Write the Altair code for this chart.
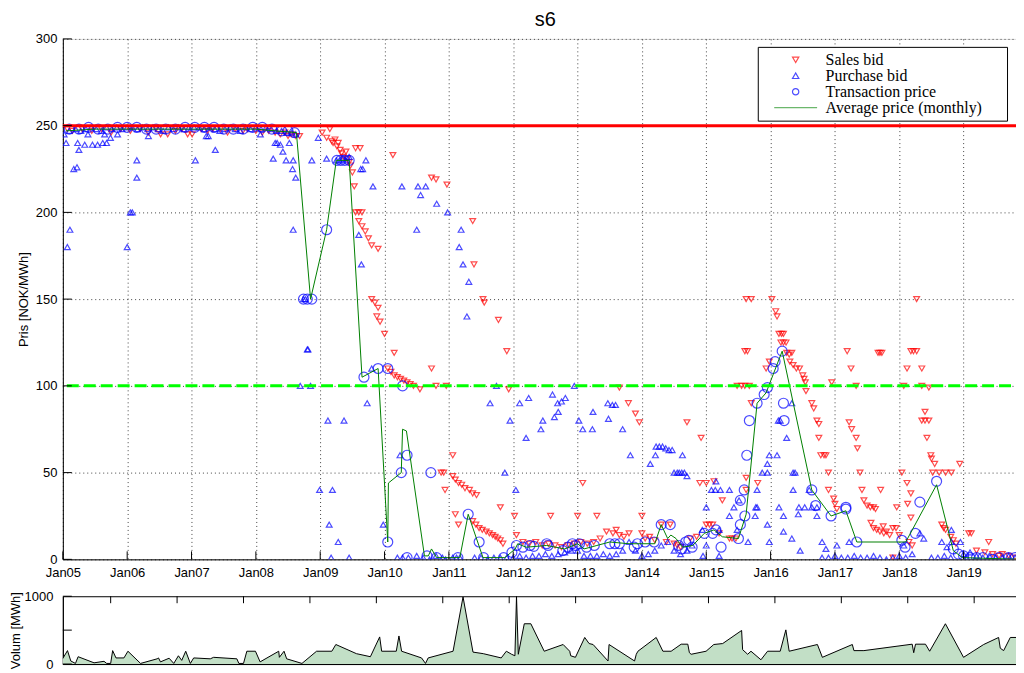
import altair as alt
import pandas as pd

# ---------------- data (years as decimal numbers) ----------------
SERIES = ["Sales bid", "Purchase bid", "Transaction price", "Average price (monthly)"]
YEAR_TICKS = list(range(2005, 2020))
PRICE_TICKS = [0, 50, 100, 150, 200, 250, 300]
VOLUME_TICKS = [0, 500, 1000]
CAP_LEVEL = [250]
FLOOR_LEVEL = [100]

sales_bid = [
    (2005.07, 248), (2005.15, 247), (2005.3, 248), (2005.45, 247), (2005.6, 248), (2005.75, 246), (2005.9, 248),
    (2006.05, 247), (2006.2, 248), (2006.33, 246), (2006.45, 248), (2006.52, 245), (2006.63, 245), (2006.75, 247),
    (2006.85, 248), (2006.94, 245), (2007.01, 245), (2007.15, 248), (2007.25, 247), (2007.33, 248), (2007.45, 248),
    (2007.56, 246), (2007.68, 248), (2007.8, 247), (2007.87, 248), (2008.0, 247), (2008.1, 246), (2008.2, 247),
    (2008.3, 246), (2008.38, 245), (2008.45, 246), (2008.5, 244), (2008.55, 245), (2008.62, 244), (2008.68, 244),
    (2009.03, 246), (2009.15, 248), (2009.1, 243), (2009.18, 241), (2009.2, 240), (2009.23, 242), (2009.26, 238),
    (2009.28, 240), (2009.31, 236), (2009.33, 234), (2009.36, 232), (2009.4, 235), (2009.42, 231), (2009.45, 229),
    (2009.47, 227), (2009.5, 223), (2009.55, 237), (2009.62, 237), (2009.53, 215), (2009.55, 200), (2009.6, 200),
    (2009.65, 200), (2009.6, 195), (2009.65, 192), (2009.7, 189), (2009.75, 185), (2009.8, 181), (2009.9, 179),
    (2009.8, 150), (2009.85, 148), (2009.9, 145), (2009.93, 137), (2009.88, 140), (2010.0, 130), (2010.13, 233),
    (2010.15, 119), (2010.05, 110), (2010.1, 108), (2010.15, 106), (2010.2, 105), (2010.25, 104), (2010.3, 103),
    (2010.35, 102), (2010.4, 101), (2010.45, 100), (2010.55, 98), (2010.73, 110), (2010.8, 100), (2010.96, 100),
    (2010.73, 220), (2010.8, 219), (2010.97, 216), (2011.37, 195), (2011.39, 170), (2011.53, 150), (2011.55, 148),
    (2011.77, 138), (2011.9, 120), (2011.93, 98), (2011.06, 60), (2010.88, 50), (2010.92, 50), (2010.94, 40),
    (2011.06, 48), (2011.1, 46), (2011.15, 44), (2011.2, 43), (2011.25, 41), (2011.32, 40), (2011.37, 38),
    (2011.43, 37), (2011.1, 26), (2011.15, 20), (2011.37, 22), (2011.42, 20), (2011.47, 18), (2011.52, 17),
    (2011.58, 16), (2011.63, 15), (2011.68, 14), (2011.72, 13), (2011.76, 12), (2011.8, 11), (2011.84, 9),
    (2011.8, 30), (2012.02, 25), (2012.05, 14), (2012.15, 10), (2012.25, 9), (2012.35, 10), (2012.45, 8),
    (2012.58, 25), (2012.55, 9), (2012.65, 8), (2012.75, 7), (2012.85, 8), (2012.95, 9), (2013.0, 25),
    (2013.08, 44), (2013.05, 10), (2013.15, 9), (2013.3, 25), (2013.25, 10), (2013.35, 12), (2013.45, 16),
    (2013.55, 15), (2013.6, 17), (2013.65, 14), (2013.72, 13), (2013.8, 15), (2013.65, 99), (2013.79, 90),
    (2013.9, 84), (2013.96, 79), (2014.0, 25), (2014.0, 15), (2014.05, 12), (2014.12, 13), (2014.2, 11),
    (2014.3, 20), (2014.44, 20), (2014.38, 10), (2014.5, 9), (2014.55, 8), (2014.6, 7),
    (2014.7, 79), (2014.92, 70), (2014.9, 44), (2015.0, 44), (2015.12, 45), (2015.25, 34), (2015.0, 20),
    (2015.05, 20), (2015.1, 20), (2015.36, 12), (2015.4, 12), (2015.46, 12), (2014.75, 12), (2014.85, 13),
    (2015.2, 15), (2015.6, 120), (2015.64, 120), (2015.62, 150), (2015.7, 150), (2015.48, 100), (2015.55, 100),
    (2015.6, 100), (2015.67, 100), (2015.7, 90), (2015.62, 47), (2015.62, 40), (2015.8, 44), (2015.93, 110),
    (2015.98, 114), (2016.02, 150), (2016.08, 143), (2016.1, 140), (2016.13, 130), (2016.17, 130), (2016.2, 130),
    (2016.16, 125), (2016.2, 125), (2016.24, 125), (2016.25, 119), (2016.29, 118), (2016.33, 119), (2016.3, 114),
    (2016.35, 112), (2016.4, 110), (2016.45, 110), (2016.5, 106), (2016.52, 104), (2016.54, 102), (2016.55, 97),
    (2016.64, 90), (2016.67, 87), (2016.72, 80), (2016.75, 78), (2016.75, 70), (2016.78, 60), (2016.83, 60),
    (2016.86, 60), (2016.9, 50), (2016.9, 40), (2016.95, 102), (2016.98, 35), (2017.0, 32), (2017.03, 29),
    (2017.19, 120), (2017.25, 110), (2017.22, 79), (2017.26, 75), (2017.33, 70), (2017.35, 64), (2017.33, 100),
    (2017.39, 50), (2017.42, 40), (2017.45, 34), (2017.5, 31), (2017.55, 30), (2017.6, 30), (2017.63, 29),
    (2017.56, 21), (2017.6, 18), (2017.65, 17), (2017.7, 16), (2017.76, 15), (2017.67, 119), (2017.7, 119),
    (2017.73, 119), (2017.71, 40), (2017.75, 19), (2017.8, 16), (2017.85, 14), (2017.9, 18), (2017.95, 18),
    (2018.0, 14), (2017.96, 30), (2018.04, 50), (2018.07, 100), (2018.12, 110), (2018.18, 120), (2018.22, 120),
    (2018.27, 120), (2018.27, 150), (2018.35, 110), (2018.35, 100), (2018.46, 99), (2018.4, 85), (2018.35, 80),
    (2018.4, 80), (2018.46, 80), (2018.43, 70), (2018.49, 60), (2018.5, 58), (2018.55, 55), (2018.52, 50),
    (2018.62, 50), (2018.72, 50), (2018.81, 50), (2018.94, 55), (2018.12, 44), (2018.18, 38), (2018.13, 32),
    (2018.18, 24), (2018.15, 10), (2018.2, 8), (2018.66, 20), (2018.69, 18), (2018.72, 17), (2018.8, 13),
    (2018.84, 11), (2018.88, 9), (2019.08, 15), (2019.12, 15), (2019.39, 10), (2019.33, 4), (2019.2, 5),
    (2019.45, 3), (2019.55, 2), (2019.6, 3), (2019.7, 2), (2019.8, 1), (2019.9, 2), (2019.98, 1), (2017.9, 1),
]

purchase_bid = [
    (2005.02, 245), (2005.1, 247), (2005.2, 248), (2005.28, 247), (2005.36, 248), (2005.44, 249), (2005.52, 248),
    (2005.6, 247), (2005.68, 249), (2005.76, 248), (2005.84, 249), (2005.92, 248), (2006.0, 249), (2006.08, 249),
    (2006.16, 248), (2006.24, 249), (2006.32, 248), (2006.4, 249), (2006.48, 248), (2006.56, 247), (2006.64, 249),
    (2006.72, 248), (2006.8, 249), (2006.88, 248), (2006.96, 249), (2007.04, 249), (2007.12, 249), (2007.2, 248),
    (2007.28, 249), (2007.36, 248), (2007.44, 247), (2007.52, 248), (2007.6, 249), (2007.68, 248), (2007.76, 247),
    (2007.84, 249), (2007.92, 248), (2008.0, 249), (2008.08, 248), (2008.16, 249), (2008.24, 248), (2008.32, 247),
    (2008.4, 247), (2008.48, 246), (2008.56, 246), (2008.62, 245),
    (2005.05, 240), (2005.07, 180), (2005.11, 190), (2005.17, 225), (2005.22, 226), (2005.25, 236), (2005.23, 240),
    (2005.34, 239), (2005.39, 245), (2005.46, 239), (2005.54, 239), (2005.62, 240), (2005.65, 245), (2005.68, 240),
    (2005.74, 243), (2005.85, 245), (2006.0, 180), (2006.05, 200), (2006.08, 200), (2006.15, 230), (2006.15, 220),
    (2006.33, 244), (2007.06, 230), (2007.23, 244), (2007.26, 244), (2007.37, 236), (2008.07, 245), (2008.27, 231),
    (2008.3, 240), (2008.33, 240), (2008.38, 239), (2008.42, 235), (2008.47, 230), (2008.52, 240), (2008.57, 225),
    (2008.58, 230), (2008.62, 220), (2008.58, 190), (2008.87, 230), (2008.97, 243), (2009.1, 231), (2008.74, 150),
    (2008.77, 150), (2008.8, 121), (2008.81, 121), (2008.69, 100), (2008.85, 100), (2009.12, 80), (2009.37, 80),
    (2008.99, 40), (2009.19, 40), (2009.14, 20), (2009.28, 10), (2009.17, 1), (2009.45, 1),
    (2009.25, 230), (2009.3, 230), (2009.35, 231), (2009.4, 230), (2009.45, 232),
    (2009.71, 230), (2009.63, 225), (2009.66, 225), (2009.82, 215), (2010.27, 215), (2010.52, 215), (2010.64, 215),
    (2010.56, 210), (2010.81, 205), (2010.98, 200), (2010.5, 190), (2011.19, 190), (2011.16, 180), (2011.22, 170),
    (2011.31, 160), (2009.6, 187), (2009.64, 170), (2011.28, 140), (2009.73, 90), (2009.8, 110), (2009.98, 20),
    (2010.24, 60), (2010.2, 1), (2010.28, 1), (2010.37, 1), (2010.5, 2), (2010.6, 1), (2010.7, 0), (2010.8, 2),
    (2010.9, 1), (2010.95, 0), (2011.06, 1), (2011.12, 1), (2011.17, 1), (2011.4, 1), (2011.5, 1), (2011.6, 0),
    (2011.7, 1), (2011.8, 1), (2011.9, 1), (2011.64, 90), (2011.74, 100), (2011.87, 50), (2011.95, 80),
    (2012.04, 40), (2012.1, 90), (2012.24, 93), (2012.2, 70), (2012.43, 75), (2012.46, 80), (2012.61, 95),
    (2012.69, 90), (2012.75, 91), (2012.81, 93), (2012.7, 85), (2012.64, 82), (2012.95, 100), (2013.02, 80),
    (2013.08, 75), (2013.23, 75), (2013.24, 85), (2013.47, 90), (2013.54, 89), (2013.59, 89), (2013.48, 81),
    (2013.7, 75), (2013.82, 60), (2014.13, 55), (2014.21, 60), (2014.22, 65), (2014.27, 65), (2014.32, 65),
    (2014.37, 64), (2014.42, 63), (2014.47, 63), (2014.5, 50), (2014.55, 50), (2014.58, 50), (2014.63, 60),
    (2014.62, 50), (2014.66, 50), (2014.7, 48),
    (2012.0, 1), (2012.1, 2), (2012.2, 1), (2012.3, 2), (2012.4, 2), (2012.5, 3), (2012.6, 2), (2012.7, 3),
    (2012.8, 4), (2012.9, 5), (2013.0, 5), (2013.1, 2), (2013.2, 2), (2013.3, 2), (2013.4, 3), (2013.5, 2),
    (2013.6, 3), (2013.7, 5), (2013.8, 10), (2013.9, 5), (2014.0, 2), (2014.1, 3), (2014.2, 5), (2014.3, 8),
    (2014.4, 10), (2014.5, 5), (2014.6, 3), (2014.7, 5), (2014.78, 8),
    (2015.08, 40), (2015.14, 40), (2015.22, 40), (2015.36, 40), (2015.15, 45), (2015.0, 30), (2014.94, 17),
    (2015.2, 17), (2014.95, 2), (2015.0, 8), (2015.2, 2), (2015.36, 25), (2015.43, 30), (2015.51, 34),
    (2015.48, 17), (2015.65, 10), (2015.79, 40), (2015.77, 30), (2015.79, 30), (2015.76, 25), (2015.95, 20),
    (2015.95, 55), (2015.98, 60), (2015.87, 50), (2015.95, 50), (2015.98, 10), (2016.1, 60), (2016.12, 80),
    (2016.15, 80), (2016.25, 70), (2016.33, 90), (2016.2, 25), (2016.2, 16), (2016.35, 40), (2016.35, 50),
    (2016.38, 50), (2016.13, 30), (2016.33, 12), (2016.46, 5), (2016.44, 30), (2016.53, 30), (2016.64, 30),
    (2016.43, 26), (2016.6, 40), (2016.72, 30), (2016.72, 25), (2016.8, 10), (2016.86, 6),
    (2016.8, 1), (2016.9, 1), (2017.0, 2), (2017.03, 8), (2017.1, 1), (2017.22, 10), (2017.2, 1), (2017.3, 2),
    (2017.4, 1), (2017.5, 1), (2017.6, 2), (2017.7, 1), (2017.8, 0), (2017.9, 1), (2018.0, 2), (2018.07, 8),
    (2018.1, 1), (2018.2, 3), (2018.32, 15), (2018.38, 12), (2018.5, 1), (2018.6, 1), (2018.7, 2), (2018.8, 1),
    (2018.66, 10), (2018.74, 7), (2018.81, 10), (2018.81, 17), (2018.95, 10),
    (2019.0, 3), (2019.05, 1), (2019.1, 4), (2019.2, 2), (2019.3, 1), (2019.4, 2), (2019.5, 1), (2019.6, 1),
    (2019.7, 2), (2019.8, 1), (2019.9, 1), (2019.98, 2),
]

transaction_price = [
    (2005.1, 248), (2005.25, 248), (2005.4, 249), (2005.55, 248), (2005.7, 248), (2005.85, 249), (2006.0, 249),
    (2006.15, 249), (2006.3, 248), (2006.45, 248), (2006.6, 248), (2006.75, 248), (2006.9, 249), (2007.05, 249),
    (2007.2, 249), (2007.35, 249), (2007.5, 248), (2007.65, 248), (2007.8, 248), (2007.95, 249), (2008.1, 249),
    (2008.25, 248), (2008.4, 247), (2008.5, 247), (2008.6, 246),
    (2008.74, 150), (2008.8, 150), (2008.87, 150), (2009.1, 190), (2009.26, 230), (2009.32, 230), (2009.38, 230),
    (2009.45, 230), (2009.68, 105), (2009.9, 110), (2010.05, 110), (2010.28, 100), (2010.05, 10), (2010.26, 50),
    (2010.35, 60), (2010.35, 1), (2010.66, 2), (2010.72, 50), (2010.81, 1), (2011.14, 1), (2011.3, 26),
    (2011.47, 10), (2011.54, 1), (2011.85, 1), (2011.98, 4), (2012.05, 8), (2012.15, 7), (2012.26, 8),
    (2012.32, 7.5), (2012.52, 9), (2012.54, 8), (2012.77, 5), (2012.85, 7), (2012.92, 9), (2012.97, 8),
    (2013.03, 9), (2013.14, 7), (2013.26, 8), (2013.5, 9), (2013.58, 9), (2013.65, 9), (2013.88, 7),
    (2013.93, 9), (2014.3, 20), (2014.44, 20), (2014.19, 10), (2014.05, 10), (2014.57, 8), (2014.62, 6),
    (2014.68, 10), (2014.73, 11), (2014.78, 7), (2014.97, 15), (2015.1, 15), (2015.15, 17), (2015.23, 7),
    (2015.5, 12), (2015.53, 20), (2015.53, 34), (2015.59, 40), (2015.6, 25), (2015.63, 60), (2015.67, 80),
    (2015.79, 90), (2015.9, 95), (2015.95, 99), (2016.04, 110), (2016.07, 114), (2016.18, 120), (2016.2, 90),
    (2016.21, 80), (2016.64, 40), (2016.7, 31), (2016.94, 25), (2017.17, 30), (2017.17, 29), (2017.34, 10),
    (2018.04, 11), (2018.09, 7), (2018.25, 15), (2018.32, 33), (2018.58, 45), (2018.84, 6), (2018.92, 3),
    (2019.0, 2), (2019.1, 1), (2019.2, 1), (2019.3, 1), (2019.45, 0), (2019.55, 1), (2019.7, 1), (2019.8, 1),
    (2019.9, 0),
]

average_monthly = [
    (2005.05, 247), (2005.5, 248), (2006.0, 248), (2006.5, 248), (2007.0, 248), (2007.5, 248), (2008.0, 248),
    (2008.3, 247), (2008.63, 246), (2008.85, 150), (2009.1, 190), (2009.25, 230), (2009.45, 230), (2009.65, 105),
    (2009.9, 110), (2010.05, 10), (2010.06, 44), (2010.26, 50), (2010.28, 75), (2010.34, 74), (2010.62, 2),
    (2010.68, 2), (2010.73, 6), (2010.81, 1), (2011.17, 1), (2011.3, 26), (2011.53, 1), (2011.87, 1),
    (2012.03, 6), (2012.07, 9), (2012.2, 7), (2012.52, 8), (2012.8, 6), (2013.0, 9), (2013.1, 6), (2013.3, 8),
    (2013.5, 10), (2013.8, 9), (2014.0, 9), (2014.2, 9), (2014.3, 20), (2014.4, 12), (2014.45, 14),
    (2014.53, 12), (2014.63, 7), (2014.79, 8), (2014.97, 15), (2015.12, 17), (2015.25, 13), (2015.5, 12),
    (2015.62, 26), (2015.79, 90), (2015.93, 96), (2016.18, 120), (2016.64, 40), (2016.94, 25), (2017.17, 28),
    (2017.34, 10), (2018.1, 10), (2018.58, 43), (2018.84, 5), (2018.98, 1), (2019.9, 0),
]

volume_mwh = [
    (2005.275, 75), (2005.35, 198), (2005.40, 45), (2005.47, 9), (2005.51, 108), (2005.75, 18), (2005.90, 40),
    (2005.94, 9), (2006.0, 9), (2006.03, 198), (2006.08, 90), (2006.20, 90), (2006.26, 189), (2006.45, 9),
    (2006.70, 77), (2006.72, 90), (2006.75, 32), (2006.88, 86), (2006.95, 9), (2007.02, 122), (2007.07, 54),
    (2007.13, 189), (2007.20, 9), (2007.25, 90), (2007.50, 77), (2007.55, 99), (2007.90, 77), (2007.93, 9),
    (2008.0, 9), (2008.05, 189), (2008.18, 189), (2008.25, 32), (2008.53, 189), (2008.54, 99), (2008.61, 189),
    (2008.65, 77), (2008.88, 9), (2009.10, 189), (2009.33, 189), (2009.39, 288), (2009.70, 153), (2009.91, 108),
    (2010.05, 400), (2010.08, 189), (2010.30, 189), (2010.34, 414), (2010.38, 189), (2010.68, 90), (2010.74, 9),
    (2010.78, 90), (2011.155, 189), (2011.305, 990), (2011.455, 176), (2011.61, 153), (2011.88, 90),
    (2011.957, 189), (2012.036, 144), (2012.086, 122), (2012.11, 999), (2012.137, 144), (2012.227, 594),
    (2012.326, 594), (2012.527, 189), (2012.812, 288), (2012.911, 189), (2012.926, 122), (2012.997, 99),
    (2013.137, 392), (2013.203, 302), (2013.263, 288), (2013.488, 45), (2013.503, 288), (2013.887, 45),
    (2013.913, 144), (2013.938, 189), (2014.213, 392), (2014.314, 189), (2014.438, 189), (2014.589, 293),
    (2014.689, 293), (2014.713, 167), (2014.739, 144), (2014.964, 189), (2015.08, 288), (2015.214, 302),
    (2015.499, 495), (2015.514, 212), (2015.59, 144), (2015.64, 189), (2015.79, 63), (2015.89, 189),
    (2016.08, 189), (2016.165, 504), (2016.215, 189), (2016.64, 288), (2016.715, 99), (2017.166, 288),
    (2017.19, 198), (2017.34, 198), (2018.067, 293), (2018.09, 167), (2018.117, 293), (2018.267, 293),
    (2018.33, 189), (2018.567, 594), (2018.84, 99), (2019.143, 288), (2019.368, 392), (2019.393, 234),
    (2019.444, 198), (2019.544, 392), (2019.724, 392),
]

# ---------------- tables ----------------
points_df = pd.concat([
    pd.DataFrame(sales_bid, columns=["x", "y"]).assign(series=SERIES[0]),
    pd.DataFrame(purchase_bid, columns=["x", "y"]).assign(series=SERIES[1]),
    pd.DataFrame(transaction_price, columns=["x", "y"]).assign(series=SERIES[2]),
], ignore_index=True)
avg_df = pd.DataFrame(average_monthly, columns=["x", "y"])
vol_df = pd.DataFrame(volume_mwh, columns=["x", "y"])
cap_df = pd.DataFrame({"y": CAP_LEVEL})
floor_df = pd.DataFrame({"y": FLOOR_LEVEL})
xtick_df = pd.DataFrame({"x": YEAR_TICKS})
ytick_df = pd.DataFrame({"y": PRICE_TICKS})
vtick_df = pd.DataFrame({"y": VOLUME_TICKS})

FONT = "Liberation Sans"
W, H = 968, 522
VH = 68

xs = alt.Scale(domain=[2005, 2020], nice=False, zero=False)
ys = alt.Scale(domain=[0, 300], nice=False, zero=False)
label_expr = "'Jan' + substring(toString(datum.value), 2, 4)"

x_axis = alt.Axis(values=YEAR_TICKS, labelExpr=label_expr, grid=True, gridDash=[1, 3], gridColor="#444444",
                  gridWidth=1, domainColor="black", domainWidth=1, tickSize=0, labelPadding=7,
                  labelFlush=False, labelOverlap=False, labelFont=FONT, labelFontSize=13,
                  labelColor="black", title=None)
y_axis = alt.Axis(values=PRICE_TICKS, grid=True, gridDash=[1, 3], gridColor="#444444", gridWidth=1,
                  domainColor="black", domainWidth=1, tickSize=0, labelPadding=6, labelFont=FONT,
                  labelFontSize=13, labelColor="black", title="Pris [NOK/MWh]", titlePadding=5,
                  titleFont=FONT, titleFontSize=13, titleFontWeight="normal", titleColor="black")

legend = alt.Legend(title=None, orient="none", legendX=697, legendY=8, fillColor="white",
                    strokeColor="black", padding=5, labelFont="Liberation Serif", labelFontSize=16,
                    labelColor="black", symbolSize=40, symbolStrokeWidth=1.2, symbolOffset=25,
                    labelOffset=22, rowPadding=0, labelLimit=320,
                    labelExpr="datum.label + '\u00a0\u00a0\u00a0\u00a0\u00a0\u200b'")

color_scale = alt.Scale(domain=SERIES, range=["#ff0000", "#0000ff", "#0000ff", "#2e9a2e"])
shape_scale = alt.Scale(domain=SERIES, range=["triangle-down", "triangle-up", "circle", "M-6.8,0H6.8"])

points = alt.Chart(points_df).mark_point(filled=False, strokeWidth=1.2, clip=True).encode(
    x=alt.X("x:Q", scale=xs, axis=x_axis),
    y=alt.Y("y:Q", scale=ys, axis=y_axis),
    color=alt.Color("series:N", scale=color_scale, legend=legend),
    shape=alt.Shape("series:N", scale=shape_scale, legend=legend),
    size=alt.condition(alt.datum.series == SERIES[2], alt.value(100), alt.value(34)),
)

avg_line = alt.Chart(avg_df).mark_line(color="#008000", strokeWidth=1, clip=True).encode(
    x="x:Q", y="y:Q")

cap_rule = alt.Chart(cap_df).mark_rule(color="#ff0000", strokeWidth=3).encode(y="y:Q")
floor_rule = alt.Chart(floor_df).mark_rule(color="#00ff00", strokeWidth=3, strokeDash=[12, 5]).encode(y="y:Q")

xticks = alt.Chart(xtick_df).mark_rule(color="black", strokeWidth=1).encode(
    x="x:Q", y=alt.value(H), y2=alt.value(H - 8))
yticks = alt.Chart(ytick_df).mark_rule(color="black", strokeWidth=1).encode(
    y="y:Q", x=alt.value(0), x2=alt.value(9))

main = alt.layer(points, avg_line, cap_rule, floor_rule, xticks, yticks).properties(
    width=W, height=H,
    title=alt.Title("s6", fontSize=20, font=FONT, fontWeight="normal", color="black",
                    anchor="middle", offset=3),
)

# ---------------- volume panel ----------------
vxs = alt.Scale(domain=[2005.28, 2019.81], nice=False, zero=False)
vys = alt.Scale(domain=[0, 1000], nice=False, zero=False)

vol_area = alt.Chart(vol_df).mark_area(color="#c2dfc6", opacity=1, clip=True,
                                       line={"color": "black", "strokeWidth": 1}).encode(
    x=alt.X("x:Q", scale=vxs,
            axis=alt.Axis(values=YEAR_TICKS[1:], labels=False, grid=False, domainColor="black",
                          tickSize=0, title=None)),
    y=alt.Y("y:Q", scale=vys,
            axis=alt.Axis(values=VOLUME_TICKS, format="d", grid=False, domainColor="black", tickSize=0,
                          labelPadding=10, labelFont=FONT, labelFontSize=13, labelColor="black",
                          title="Volum [MWh]", titlePadding=2, titleFont=FONT, titleFontSize=13,
                          titleFontWeight="normal", titleColor="black")),
)
vxticks = alt.Chart(xtick_df[xtick_df["x"] > 2005]).mark_rule(color="black", strokeWidth=1).encode(
    x="x:Q", y=alt.value(0), y2=alt.value(7))
vyticks = alt.Chart(vtick_df).mark_rule(color="black", strokeWidth=1).encode(
    y="y:Q", x=alt.value(0), x2=alt.value(9))

bottom = alt.layer(vol_area, vxticks, vyticks).properties(
    width=W, height=VH, view=alt.ViewBackground(stroke="black", strokeWidth=1))

chart = alt.vconcat(main, bottom, spacing=9).properties(
    padding={"left": 0, "top": 0, "right": -14, "bottom": 0}
).configure_view(stroke="transparent").configure(background="white")

chart.save("out.html", embed_options={"renderer": "svg", "actions": False})
